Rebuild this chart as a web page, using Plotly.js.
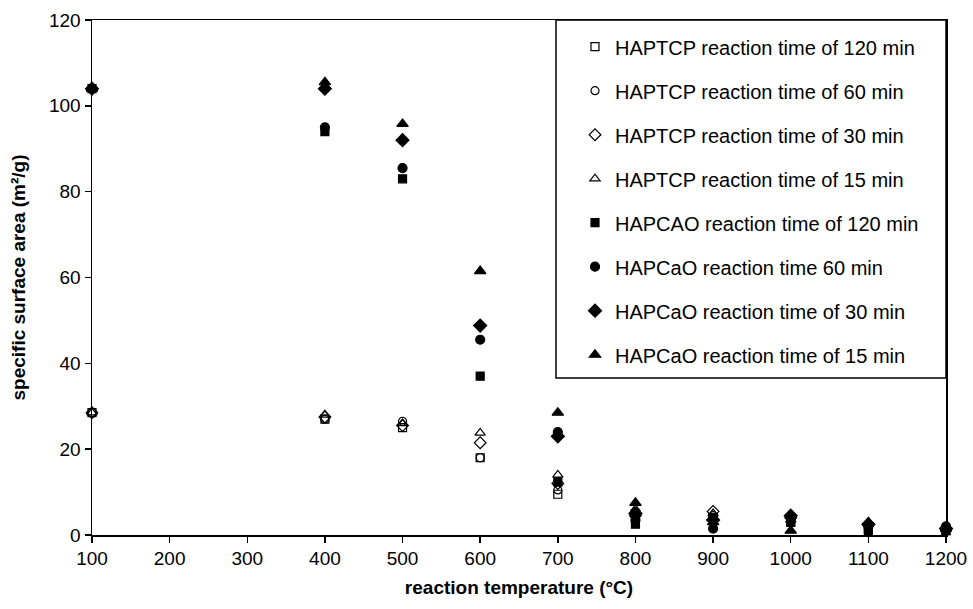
<!DOCTYPE html>
<html>
<head>
<meta charset="utf-8">
<script src="https://cdn.plot.ly/plotly-3.0.1.min.js"></script>
<style>html,body{margin:0;padding:0;background:#fff;}#chart{width:973px;height:609px;}</style>
</head>
<body>
<div id="chart"></div>
<script>
const temps = [100, 400, 500, 600, 700, 800, 900, 1000, 1100, 1200];

const seriesNames = [
  "HAPTCP reaction time of 120 min",
  "HAPTCP reaction time of 60 min",
  "HAPTCP reaction time of 30 min",
  "HAPTCP reaction time of 15 min",
  "HAPCAO reaction time of 120 min",
  "HAPCaO reaction time 60 min",
  "HAPCaO reaction time of 30 min",
  "HAPCaO reaction time of 15 min"
];

const tcp120 = [28.5, 27.0, 25.0, 18.0, 9.5, 5.0, 4.0, 3.0, 1.5, 1.0];
const tcp60  = [28.5, 27.0, 26.5, 18.0, 10.5, 5.5, 4.5, 3.5, 2.0, 1.5];
const tcp30  = [28.5, 27.5, 25.5, 21.5, 12.0, 4.5, 5.5, 4.0, 2.5, 1.5];
const tcp15  = [28.5, 28.0, 26.0, 23.8, 14.0, 6.0, 5.0, 3.5, 2.5, 1.5];
const cao120 = [104.0, 94.0, 83.0, 37.0, 12.4, 2.5, 4.0, 3.0, 1.0, 1.0];
const cao60  = [104.0, 95.0, 85.5, 45.5, 24.0, 3.5, 1.5, 4.0, 2.0, 2.0];
const cao30  = [104.0, 104.0, 92.0, 48.8, 23.0, 5.0, 3.5, 4.5, 2.5, 1.5];
const cao15  = [104.0, 105.5, 95.8, 61.5, 28.5, 7.5, 3.0, 1.0, 3.0, 1.5];

const seriesValues = [tcp120, tcp60, tcp30, tcp15, cao120, cao60, cao30, cao15];
const symbols = ["square-open", "circle-open", "diamond-open", "triangle-up-open",
                 "square", "circle", "diamond", "triangle-up"];
const sizes = [8, 8, 9, 9, 8, 9, 10, 10];

const traces = seriesValues.map((vals, i) => ({
  x: temps,
  y: vals,
  name: seriesNames[i],
  type: "scatter",
  mode: "markers",
  cliponaxis: false,
  legendgroup: "g" + i,
  marker: {
    symbol: symbols[i],
    size: sizes[i],
    color: "#000",
    line: {color: "#000", width: 1.2}
  }
}));

const layout = {
  width: 973,
  height: 609,
  margin: {l: 92, r: 27, t: 20, b: 74},
  paper_bgcolor: "#fff",
  plot_bgcolor: "#fff",
  font: {family: "Arial, 'Liberation Sans', sans-serif", size: 20, color: "#000"},
  showlegend: true,
  legend: {
    x: (575 - 92) / 854, y: 0.986, xanchor: "left", yanchor: "top",
    bgcolor: "rgba(0,0,0,0)",
    borderwidth: 0,
    tracegroupgap: 15,
    itemwidth: 30,
    font: {size: 20, color: "#000"}
  },
  xaxis: {
    range: [100, 1200],
    tickmode: "linear", tick0: 100, dtick: 100,
    ticks: "outside", ticklen: 6, tickwidth: 1.5, tickcolor: "#000",
    showline: true, linecolor: "#000", linewidth: 1.5, mirror: true,
    showgrid: false, zeroline: false,
    tickfont: {size: 19},
    title: {text: "<b>reaction temperature (°C)</b>", font: {size: 19}, standoff: 12}
  },
  yaxis: {
    range: [0, 120],
    tickmode: "linear", tick0: 0, dtick: 20,
    ticks: "outside", ticklen: 6, tickwidth: 1.5, tickcolor: "#000",
    showline: true, linecolor: "#000", linewidth: 1.5, mirror: true,
    showgrid: false, zeroline: false,
    tickfont: {size: 19},
    title: {text: "<b>specific surface area (m²/g)</b>", font: {size: 19}, standoff: 18}
  },
  shapes: [{
    type: "rect", xref: "paper", yref: "paper",
    x0: (556 - 92) / 854, x1: 1.0,
    y0: (535 - 378) / 515, y1: 1.0,
    line: {color: "#000", width: 1.5},
    fillcolor: "#fff",
    layer: "above"
  }]
};

Plotly.newPlot("chart", traces, layout, {displayModeBar: false, staticPlot: true});
</script>
</body>
</html>
